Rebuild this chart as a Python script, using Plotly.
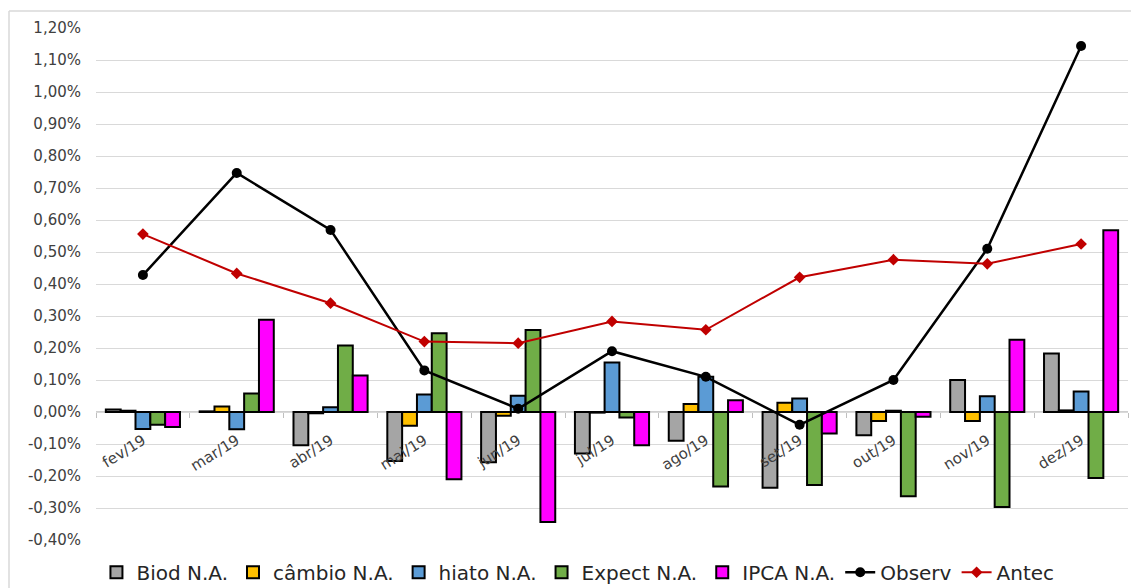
import plotly.graph_objects as go

# Monthly decomposition of inflation surprises (values in %)
months = ["fev/19", "mar/19", "abr/19", "mai/19", "jun/19", "jul/19",
          "ago/19", "set/19", "out/19", "nov/19", "dez/19"]

biod = [0.008, 0.002, -0.104, -0.153, -0.157, -0.130, -0.090, -0.237, -0.073, 0.100, 0.183]
cambio = [0.004, 0.017, -0.004, -0.043, -0.012, -0.002, 0.025, 0.029, -0.028, -0.028, 0.005]
hiato = [-0.053, -0.054, 0.015, 0.055, 0.051, 0.155, 0.110, 0.042, 0.004, 0.049, 0.064]
expect = [-0.040, 0.058, 0.208, 0.246, 0.256, -0.017, -0.233, -0.228, -0.263, -0.297, -0.206]
ipca = [-0.047, 0.288, 0.114, -0.210, -0.344, -0.104, 0.037, -0.067, -0.015, 0.226, 0.568]
observ = [0.428, 0.747, 0.569, 0.130, 0.010, 0.190, 0.110, -0.040, 0.100, 0.510, 1.144]
antec = [0.556, 0.433, 0.340, 0.220, 0.215, 0.283, 0.257, 0.421, 0.476, 0.463, 0.525]

y_ticks = [1.2, 1.1, 1.0, 0.9, 0.8, 0.7, 0.6, 0.5, 0.4, 0.3, 0.2, 0.1, 0.0,
           -0.1, -0.2, -0.3, -0.4]
y_tick_labels = ["1,20%", "1,10%", "1,00%", "0,90%", "0,80%", "0,70%", "0,60%",
                 "0,50%", "0,40%", "0,30%", "0,20%", "0,10%", "0,00%",
                 "-0,10%", "-0,20%", "-0,30%", "-0,40%"]

Y_MIN, Y_MAX = -0.4, 1.2

bar_series = [
    ("Biod N.A.", biod, "#a5a5a5"),
    ("câmbio N.A.", cambio, "#ffc000"),
    ("hiato N.A.", hiato, "#5b9bd5"),
    ("Expect N.A.", expect, "#70ad47"),
    ("IPCA N.A.", ipca, "#ff00ff"),
]

fig = go.Figure()
for name, vals, color in bar_series:
    fig.add_trace(go.Bar(
        x=months, y=vals, name=name,
        marker=dict(color=color, line=dict(color="#000000", width=2)),
        hoverinfo="skip",
    ))

fig.add_trace(go.Scatter(
    x=months, y=observ, name="Observ", mode="lines+markers",
    line=dict(color="#000000", width=2.5),
    marker=dict(symbol="circle", size=10, color="#000000"),
    hoverinfo="skip",
))
fig.add_trace(go.Scatter(
    x=months, y=antec, name="Antec", mode="lines+markers",
    line=dict(color="#c00000", width=2),
    marker=dict(symbol="diamond", size=9, color="#c00000"),
    hoverinfo="skip",
))

# Place the category axis on the zero line
zero_pos = (0 - Y_MIN) / (Y_MAX - Y_MIN)

fig.update_layout(
    width=1131, height=588,
    margin=dict(l=96, r=3, t=28, b=48, autoexpand=False),
    paper_bgcolor="#ffffff", plot_bgcolor="#ffffff",
    barmode="group", bargap=0.21, bargroupgap=0,
    font=dict(family="DejaVu Sans", size=15, color="#404040"),
    showlegend=True,
    legend=dict(
        orientation="h", x=0.467, xanchor="center", y=-0.063, yanchor="middle",
        font=dict(family="DejaVu Sans", size=20, color="#262626"),
        traceorder="normal", itemwidth=30,
        bgcolor="rgba(0,0,0,0)",
    ),
    xaxis=dict(
        type="category", range=[-0.5, len(months) - 0.5],
        anchor="free", position=zero_pos,
        showline=False,
        ticks="outside", tickson="boundaries", ticklen=5, tickcolor="#bfbfbf",
        tickangle=-32, ticklabelstandoff=16,
        showgrid=False, zeroline=False,
        tickfont=dict(family="DejaVu Sans", size=15, color="#404040"),
        layer="above traces", automargin=False,
    ),
    yaxis=dict(
        range=[Y_MIN, Y_MAX], tickvals=y_ticks, ticktext=y_tick_labels,
        showgrid=True, gridcolor="#d9d9d9", gridwidth=1.3,
        zeroline=False, showline=False, ticks="",
        ticklabelstandoff=14,
        tickfont=dict(family="DejaVu Sans", size=15, color="#404040"),
        automargin=False, layer="below traces",
    ),
    shapes=[
        # zero line beneath the bars
        dict(type="line", xref="paper", yref="y", layer="below",
             x0=0, x1=1, y0=0, y1=0,
             line=dict(color="#bfbfbf", width=1.5)),
        # chart frame
        dict(type="line", xref="paper", yref="paper",
             x0=-0.0843, x1=-0.0843, y0=1.0332, y1=-0.1,
             line=dict(color="#d9d9d9", width=1.5)),
        dict(type="line", xref="paper", yref="paper",
             x0=-0.0843, x1=1.01, y0=1.0332, y1=1.0332,
             line=dict(color="#d9d9d9", width=1.5)),
    ],
)

fig.write_html("out.html")
